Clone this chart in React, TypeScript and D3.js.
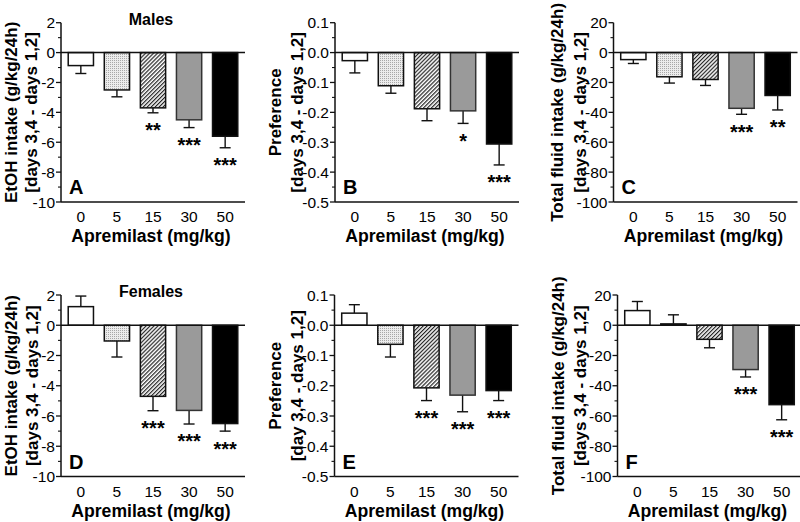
import React from "react";
import * as d3 from "d3";

const doses = ["0", "5", "15", "30", "50"];

const etohMales = [-0.87, -2.5, -3.7, -4.5, -5.6];
const etohMalesErr = [0.53, 0.46, 0.33, 0.52, 0.77];
const etohMalesStars = ["", "", "**", "***", "***"];

const prefMales = [-0.027, -0.111, -0.188, -0.195, -0.306];
const prefMalesErr = [0.041, 0.025, 0.04, 0.042, 0.07];
const prefMalesStars = ["", "", "", "*", "***"];

const fluidMales = [-4.7, -16.2, -18, -37.3, -28.7];
const fluidMalesErr = [2.6, 4.2, 4, 4, 9.7];
const fluidMalesStars = ["", "", "", "***", "**"];

const etohFemales = [1.23, -1.04, -4.7, -5.63, -6.5];
const etohFemalesErr = [0.7, 1.06, 0.95, 0.9, 0.5];
const etohFemalesStars = ["", "", "***", "***", "***"];

const prefFemales = [0.04, -0.063, -0.207, -0.231, -0.216];
const prefFemalesErr = [0.028, 0.042, 0.042, 0.055, 0.033];
const prefFemalesStars = ["", "", "***", "***", "***"];

const fluidFemales = [9.7, 0.9, -9.3, -29.3, -52.5];
const fluidFemalesErr = [6, 6, 5.6, 4.9, 10];
const fluidFemalesStars = ["", "", "", "***", "***"];

const etohTicks = [2, 0, -2, -4, -6, -8, -10];
const prefTicks = [0.1, 0.0, -0.1, -0.2, -0.3, -0.4, -0.5];
const fluidTicks = [20, 0, -20, -40, -60, -80, -100];

const FONT = "'Liberation Sans', Arial, Helvetica, sans-serif";
const barFills = ["#ffffff", "url(#stipple)", "url(#hatch)", "#9a9a9a", "#000000"];

type Panel = {
  values: number[];
  errs: number[];
  stars: string[];
  ticks: number[];
  fmt: (v: number) => string;
  ax: number;
  yTop: number;
  yBot: number;
  letter: string;
  title1: string;
  title2: string;
  t1x: number;
  t2x: number;
  heading?: string;
};

const intFmt = (v: number) => d3.format("d")(v).replace("\u2212", "-");
const decFmt = (v: number) => d3.format(".1f")(v).replace("\u2212", "-");

const panels: Panel[] = [
  { values: etohMales, errs: etohMalesErr, stars: etohMalesStars, ticks: etohTicks, fmt: intFmt, ax: 61, yTop: 22.7, yBot: 202, letter: "A", title1: "EtOH intake (g/kg/24h)", title2: "[days 3,4 - days 1,2]", t1x: 11, t2x: 31.5, heading: "Males" },
  { values: prefMales, errs: prefMalesErr, stars: prefMalesStars, ticks: prefTicks, fmt: decFmt, ax: 335, yTop: 22.7, yBot: 202, letter: "B", title1: "Preference", title2: "[days 3,4 - days 1,2]", t1x: 275, t2x: 297 },
  { values: fluidMales, errs: fluidMalesErr, stars: fluidMalesStars, ticks: fluidTicks, fmt: intFmt, ax: 613.5, yTop: 22.7, yBot: 202, letter: "C", title1: "Total fluid intake (g/kg/24h)", title2: "[days 3,4 - days 1,2]", t1x: 557, t2x: 580 },
  { values: etohFemales, errs: etohFemalesErr, stars: etohFemalesStars, ticks: etohTicks, fmt: intFmt, ax: 61, yTop: 295, yBot: 476.5, letter: "D", title1: "EtOH intake (g/kg/24h)", title2: "[days 3,4 - days 1,2]", t1x: 11.5, t2x: 31.7, heading: "Females" },
  { values: prefFemales, errs: prefFemalesErr, stars: prefFemalesStars, ticks: prefTicks, fmt: decFmt, ax: 334.5, yTop: 295, yBot: 476.5, letter: "E", title1: "Preference", title2: "[day 3,4 - days 1,2]", t1x: 275, t2x: 296.7 },
  { values: fluidFemales, errs: fluidFemalesErr, stars: fluidFemalesStars, ticks: fluidTicks, fmt: intFmt, ax: 617.5, yTop: 295, yBot: 476.5, letter: "F", title1: "Total fluid intake (g/kg/24h)", title2: "[days 3,4 - days 1,2]", t1x: 558, t2x: 580 },
];

const W = 184;

function PanelView({ p }: { p: Panel }) {
  const y = d3
    .scaleLinear()
    .domain([p.ticks[p.ticks.length - 1], p.ticks[0]])
    .range([p.yBot, p.yTop]);
  const x = d3
    .scaleBand<string>()
    .domain(doses)
    .range([p.ax, p.ax + W])
    .paddingInner(0.3)
    .paddingOuter(0.2);
  const step = p.ticks[0] - p.ticks[1];
  const minors = p.ticks.slice(0, -1).map((t) => t - step / 2);
  const bw = x.bandwidth();
  const midY = (p.yTop + p.yBot) / 2;
  const stroke = "#111";
  return (
    <g>
      {p.values.map((v, i) => {
        const x0 = x(doses[i])!;
        const cx = x0 + bw / 2;
        const sign = v >= 0 ? 1 : -1;
        const end = v + sign * p.errs[i];
        const yv = y(v);
        const y0 = y(0);
        return (
          <g key={i}>
            <line x1={cx} x2={cx} y1={yv} y2={y(end)} stroke={stroke} strokeWidth={1.4} />
            <line x1={cx - 5.5} x2={cx + 5.5} y1={y(end)} y2={y(end)} stroke={stroke} strokeWidth={1.4} />
            <rect
              x={x0}
              y={Math.min(yv, y0)}
              width={bw}
              height={Math.max(Math.abs(yv - y0), 0.5)}
              fill={barFills[i]}
              stroke={i === 3 ? "#333" : stroke}
              strokeWidth={1.5}
            />
            {p.stars[i] && (
              <text
                x={cx}
                y={y(end) + (sign < 0 ? 24.4 : -6)}
                textAnchor="middle"
                fontFamily={FONT}
                fontSize={20}
                fontWeight="bold"
                fill="#000"
              >
                {p.stars[i]}
              </text>
            )}
          </g>
        );
      })}
      <line x1={p.ax} x2={p.ax + W} y1={y(0)} y2={y(0)} stroke={stroke} strokeWidth={1.5} />
      <line x1={p.ax} x2={p.ax + W} y1={p.yBot} y2={p.yBot} stroke={stroke} strokeWidth={1.5} />
      <line x1={p.ax} x2={p.ax} y1={p.yTop} y2={p.yBot} stroke={stroke} strokeWidth={1.5} />
      {p.ticks.map((t, i) => (
        <g key={"t" + i}>
          <line x1={p.ax - 5} x2={p.ax} y1={y(t)} y2={y(t)} stroke={stroke} strokeWidth={1.3} />
          <text
            x={p.ax - 6}
            y={y(t)}
            dy="0.36em"
            textAnchor="end"
            fontFamily={FONT}
            fontSize={15.5}
            fill="#000"
          >
            {p.fmt(t)}
          </text>
        </g>
      ))}
      {minors.map((t, i) => (
        <line key={"m" + i} x1={p.ax - 3} x2={p.ax} y1={y(t)} y2={y(t)} stroke={stroke} strokeWidth={1.1} />
      ))}
      {doses.map((d, i) => (
        <text
          key={"x" + i}
          x={x(d)! + bw / 2}
          y={p.yBot + 20}
          textAnchor="middle"
          fontFamily={FONT}
          fontSize={15.5}
          fill="#000"
        >
          {d}
        </text>
      ))}
      <text
        x={p.ax + 90}
        y={p.yBot + 40}
        textAnchor="middle"
        fontFamily={FONT}
        fontSize={17.6}
        fontWeight="bold"
        fill="#000"
      >
        Apremilast (mg/kg)
      </text>
      <text
        transform={`translate(${p.t1x},${midY}) rotate(-90)`}
        dy="0.35em"
        textAnchor="middle"
        fontFamily={FONT}
        fontSize={17}
        fontWeight="bold"
        fill="#000"
      >
        {p.title1}
      </text>
      <text
        transform={`translate(${p.t2x},${midY}) rotate(-90)`}
        dy="0.35em"
        textAnchor="middle"
        fontFamily={FONT}
        fontSize={17}
        fontWeight="bold"
        fill="#000"
      >
        {p.title2}
      </text>
      <text
        x={p.ax + 8}
        y={p.yBot - 8}
        fontFamily={FONT}
        fontSize={20}
        fontWeight="bold"
        fill="#000"
      >
        {p.letter}
      </text>
      {p.heading && (
        <text
          x={p.ax + 90}
          y={p.yTop + 2.3}
          textAnchor="middle"
          fontFamily={FONT}
          fontSize={16}
          fontWeight="bold"
          fill="#000"
        >
          {p.heading}
        </text>
      )}
    </g>
  );
}

export default function App() {
  return (
    <svg
      width={800}
      height={522}
      viewBox="0 0 800 522"
      style={{ position: "absolute", left: 0, top: 0, background: "#fff" }}
    >
      <defs>
        <pattern id="hatch" width={2.8} height={2.8} patternUnits="userSpaceOnUse" patternTransform="rotate(45)">
          <rect width={2.8} height={2.8} fill="#fff" />
          <line x1={0.6} y1={0} x2={0.6} y2={2.8} stroke="#222" strokeWidth={1.2} />
        </pattern>
        <pattern id="stipple" width={2} height={2} patternUnits="userSpaceOnUse">
          <rect width={2} height={2} fill="#ececec" />
          <rect width={1} height={1} fill="#a8a8a8" />
        </pattern>
      </defs>
      <rect width={800} height={522} fill="#fff" />
      {panels.map((p, i) => (
        <PanelView key={i} p={p} />
      ))}
    </svg>
  );
}
